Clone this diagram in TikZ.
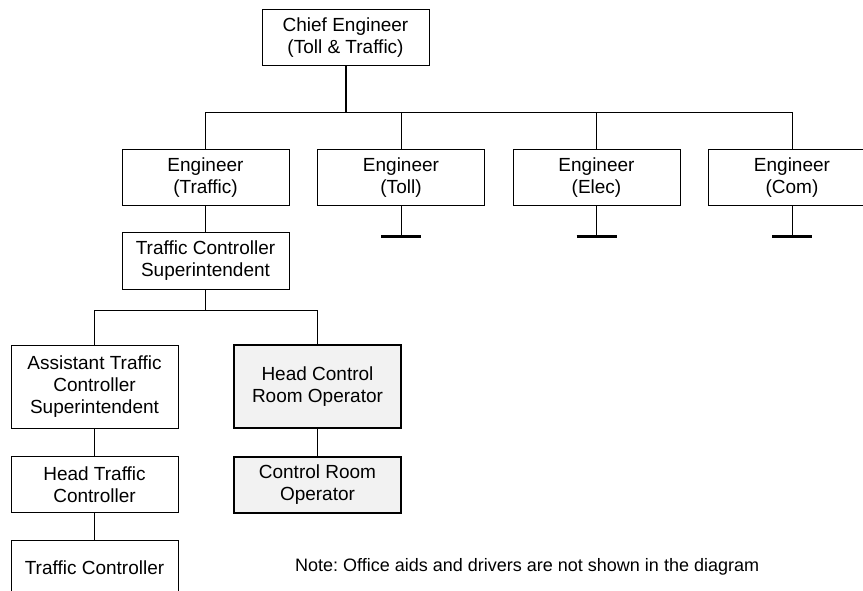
\documentclass[tikz,border=0pt]{standalone}
\usepackage{fontspec}
\setmainfont{Liberation Sans}
\usetikzlibrary{positioning}
\usetikzlibrary{calc}
\definecolor{opgray}{HTML}{F2F2F2}
\frenchspacing

\tikzset{
  post/.style={draw, line width=1pt, align=center, minimum width=167pt, minimum height=56pt, inner sep=2pt,
    font=\fontsize{19}{22}\selectfont},
  tallpost/.style={post, minimum height=83pt},
  oppost/.style={post, line width=2pt, fill=opgray},
  link/.style={line width=1pt},
  cap bar/.style={line width=3pt}
}

\begin{document}
\begin{tikzpicture}[x=1pt,y=-1pt]
					\clip (0,0) rectangle (863,591);
					\fill[white] (0,0) rectangle (863,591);
					
					% top of the tree
					\node[post] (chief) at (345.5,38) {Chief Engineer\\(Toll \& Traffic)};
					\coordinate (bus) at (0,113);
					
					% engineers
					\node[post] (engT) at (205.5,177.5) {Engineer\\(Traffic)};
					\node[post] (engL) at (401,177.5) {Engineer\\(Toll)};
					\node[post] (engE) at (596.5,177.5) {Engineer\\(Elec)};
					\node[post] (engC) at (792,177.5) {Engineer\\(Com)};
					
					\draw[line width=2pt] (chief.south) -- (chief.south |- bus);
					\draw[link] (engT.north) |- (engC.north |- bus) -- (engC.north);
					\draw[link] (engL.north) -- (engL.north |- bus);
					\draw[link] (engE.north) -- (engE.north |- bus);
					
					% open branches
					\foreach \e in {engL,engE,engC} {
						\coordinate (\e-end) at ($(\e.south)+(0,31)$);
						\draw[link] (\e.south) -- (\e-end);
						\draw[cap bar] ($(\e-end)+(-20,0)$) -- ($(\e-end)+(20,0)$);
					}
					
					% traffic branch
					\node[post] (tcs) at (205.5,261) {Traffic Controller\\Superintendent};
					\draw[link] (engT.south) -- (tcs.north);
					
					\node[tallpost] (atcs) at (94.5,386.5) {Assistant Traffic\\Controller\\Superintendent};
					\node[oppost, minimum height=83pt] (hcro) at (317.5,386.5) {Head Control\\Room Operator};
					\coordinate (split) at (0,310);
					\draw[link] (tcs.south) -- (tcs.south |- split);
					\draw[link] (atcs.north) |- (hcro.north |- split) -- (hcro.north);
					
					\node[post] (htc) at (94.5,484.5) {Head Traffic\\Controller};
					\node[oppost] (cro) at (317.5,484.5) {Control Room\\Operator};
					\node[post] (tc) at (94.5,568) {Traffic Controller};
					\draw[link] (atcs.south) -- (htc.north);
					\draw[link] (htc.south) -- (tc.north);
					\draw[link] (hcro.south) -- (cro.north);
					
					% note
					\node[anchor=west, inner sep=0pt, font=\fontsize{18}{22}\selectfont] (note) at (295,567) {Note: Office aids and drivers are not shown in the diagram};
				\end{tikzpicture}
\end{document}
